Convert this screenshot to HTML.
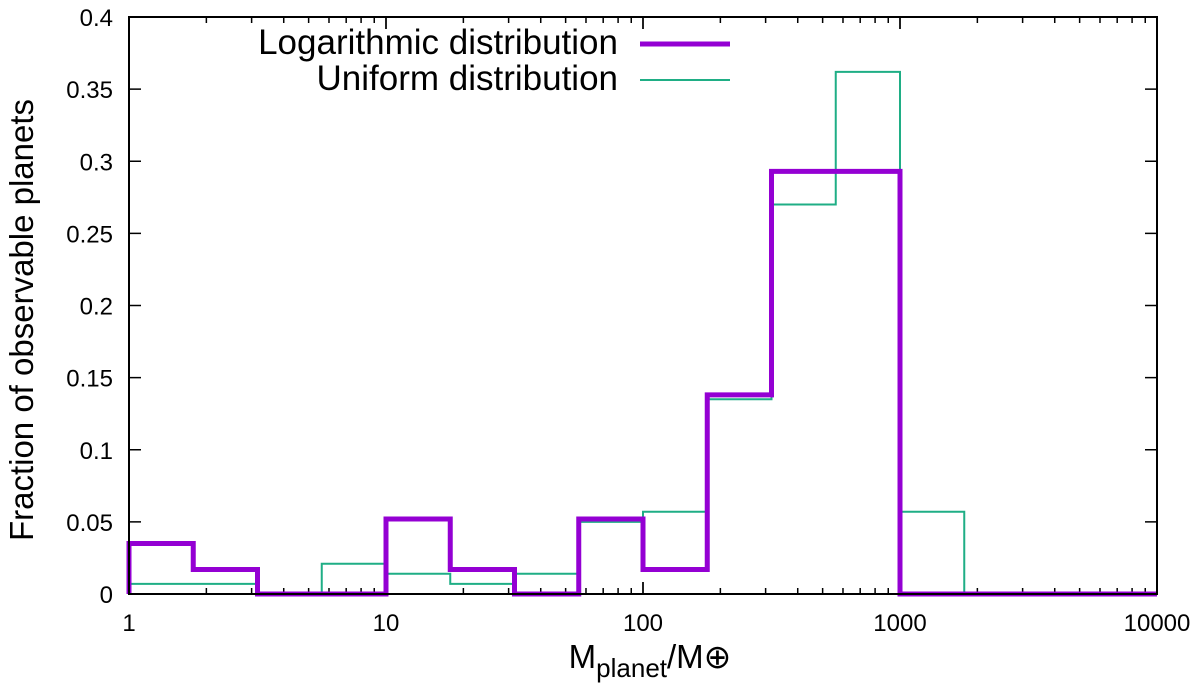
<!DOCTYPE html>
<html><head><meta charset="utf-8"><style>
body{margin:0;background:#fff;}
svg{display:block;font-family:"Liberation Sans",sans-serif;}
</style></head><body>
<svg id="chart" width="1200" height="683"></svg>
<script>
const binEdgesLog = [0,0.25,0.5,0.75,1,1.25,1.5,1.75,2,2.25,2.5,2.75,3,3.25,3.5,3.75,4];
const logValues = [0.035,0.017,0,0,0.052,0.017,0,0.052,0.017,0.138,0.293,0.293,0,0,0,0];
const uniValues = [0.007,0.007,0,0.021,0.014,0.007,0.014,0.050,0.057,0.135,0.270,0.362,0.057,0,0,0];
const yTicks = [0,0.05,0.1,0.15,0.2,0.25,0.3,0.35,0.4];
const yTickLabels = ["0","0.05","0.1","0.15","0.2","0.25","0.3","0.35","0.4"];
const xTicks = [0,1,2,3,4];
const xTickLabels = ["1","10","100","1000","10000"];

const L=129,R=1157,T=17,B=594;
const X=v=>L+(R-L)*v/4;
const Y=v=>B-(B-T)*v/0.4;
const ns="http://www.w3.org/2000/svg";
const svg=document.getElementById('chart');
function mk(tag,attrs,parent){const e=document.createElementNS(ns,tag);for(const k in attrs)e.setAttribute(k,attrs[k]);(parent||svg).appendChild(e);return e;}

for(let d=0;d<4;d++){for(let m=1;m<=10;m++){const lx=X(d+Math.log10(m));const len=(m===1||m===10)?12:6;
 const t1=mk('line',{x1:lx,x2:lx,y1:B,y2:B-len,stroke:'#000','stroke-width':1.5});
 
 
 const t2=mk('line',{x1:lx,x2:lx,y1:T,y2:T+len,stroke:'#000','stroke-width':1.5});
 
 }}
yTicks.forEach((v,i)=>{const y=Y(v);
 const a=mk('line',{x1:L,x2:L+12,y1:y,y2:y,stroke:'#000','stroke-width':1.5});
 
 
 const b=mk('line',{x1:R,x2:R-12,y1:y,y2:y,stroke:'#000','stroke-width':1.5});
 
 
 const t=mk('text',{x:L-16,y:y+9,'text-anchor':'end','font-size':24});
 t.textContent=yTickLabels[i];
 
 });
xTicks.forEach((v,i)=>{const t=mk('text',{x:X(v),y:B+37,'text-anchor':'middle','font-size':24});
 t.textContent=xTickLabels[i];
 
 });

function stepPath(vals){let d='M'+X(binEdgesLog[0])+','+Y(0);
 vals.forEach((v,i)=>{d+=' L'+X(binEdgesLog[i])+','+Y(v)+' L'+X(binEdgesLog[i+1])+','+Y(v);});
 d+=' L'+X(binEdgesLog[vals.length])+','+Y(0);return d;}
const pu=mk('path',{d:stepPath(uniValues),fill:'none',stroke:'#1fae85','stroke-width':2});


const pl=mk('path',{d:stepPath(logValues),fill:'none',stroke:'#9400d3','stroke-width':5});



const fr=mk('rect',{x:L,y:T,width:R-L,height:B-T,fill:'none',stroke:'#000','stroke-width':2});



const l1=mk('text',{x:618,y:54,'text-anchor':'end','font-size':35});l1.textContent='Logarithmic distribution';


const ll1=mk('line',{x1:640,x2:730,y1:44,y2:44,stroke:'#9400d3','stroke-width':5});


const l2=mk('text',{x:618,y:90,'text-anchor':'end','font-size':35});l2.textContent='Uniform distribution';


const ll2=mk('line',{x1:640,x2:730,y1:80,y2:80,stroke:'#1fae85','stroke-width':2});



const yt=mk('text',{x:0,y:0,'text-anchor':'middle','font-size':33,transform:'translate(33,320) rotate(-90)'});
yt.textContent='Fraction of observable planets';


const xt=mk('text',{x:650,y:668,'text-anchor':'middle','font-size':33});
xt.innerHTML='M<tspan font-size="26" dy="9">planet</tspan><tspan dy="-9">/M⊕</tspan>';


</script>
</body></html>
